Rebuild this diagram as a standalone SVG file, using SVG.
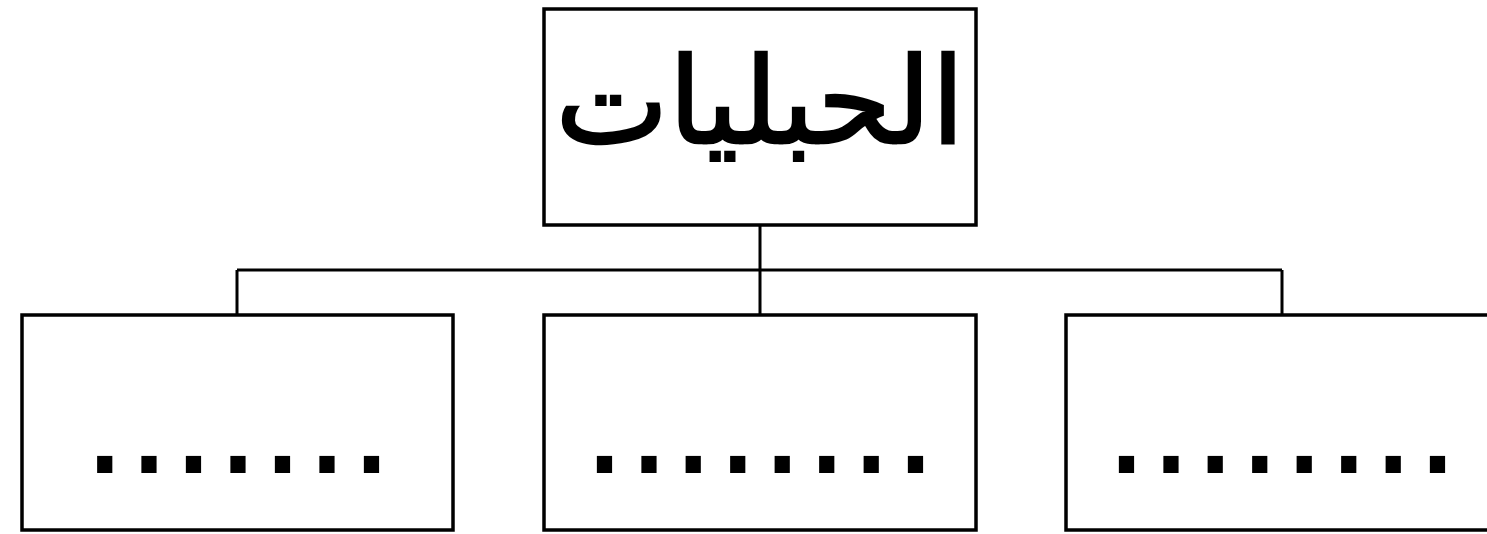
<svg xmlns="http://www.w3.org/2000/svg" width="1487" height="534" viewBox="0 0 1487 534">
<style>
.box{fill:#fff;stroke:#000;stroke-width:3.5}
.conn{fill:none;stroke:#000;stroke-width:3}
.title{font-family:"DejaVu Sans",sans-serif;font-size:120px;fill:#000;stroke:#000;stroke-width:2.5;text-anchor:middle}
.dots{font-family:"Liberation Sans",Arial,sans-serif;font-size:160px;fill:#000;text-anchor:middle}
</style>
<rect width="1487" height="534" fill="#fff"/>
<g id="connectors">
<path class="conn" d="M760 225 V270 M237 270 H1282 M237 270 V315 M760 270 V315 M1282 270 V315"/>
</g>
<g id="root">
<rect class="box" x="544" y="9" width="432" height="216"/>
<text class="title" x="760" y="143" direction="rtl">الحبليات</text>
</g>
<g id="child1">
<rect class="box" x="22" y="315" width="431" height="215"/>
<text class="dots" x="238" y="473">.......</text>
</g>
<g id="child2">
<rect class="box" x="544" y="315" width="432" height="215"/>
<text class="dots" x="760" y="473">........</text>
</g>
<g id="child3">
<rect class="box" x="1066" y="315" width="440" height="215"/>
<text class="dots" x="1282" y="473">........</text>
</g>
</svg>
